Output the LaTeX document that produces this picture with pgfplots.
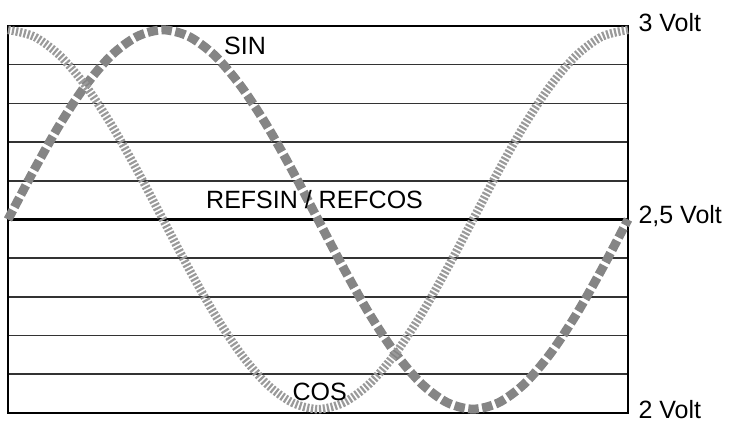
\documentclass[border=0pt]{standalone}
\usepackage{pgfplots}
\pgfplotsset{compat=1.18}
\usepackage{fontspec}
\setmainfont{Liberation Sans}
\definecolor{sincol}{HTML}{858585}
\definecolor{coscol}{HTML}{9A9A9A}
\begin{document}
\begin{tikzpicture}[x=1pt,y=1pt]
\begin{axis}[
  scale only axis,
  width=620pt, height=387pt,
  xmin=0, xmax=360, ymin=2, ymax=3,
  xtick=\empty,
  ytick={2,2.5,3},
  yticklabels={2 Volt,{2,5 Volt},3 Volt},
  yticklabel pos=right,
  minor ytick={2.1,2.2,2.3,2.4,2.6,2.7,2.8,2.9},
  major tick length=0pt, minor tick length=0pt,
  ymajorgrids, yminorgrids,
  major grid style={black, line width=2.2pt},
  minor grid style={black!80, line width=1.6pt},
  axis line style={black, line width=2.2pt},
  yticklabel style={font=\fontsize{25}{30}\selectfont, xshift=7pt, yshift=3pt, anchor=west},
  clip=false,
]
\addplot[sincol, line width=9pt, dash pattern=on 10.5pt off 3.5pt, smooth] coordinates {
(0,2.500) (15,2.627) (30,2.745) (45,2.846) (60,2.924) (75,2.973) (90,2.990)
(105,2.973) (120,2.924) (135,2.846) (150,2.745) (165,2.627) (180,2.500)
(195,2.373) (210,2.255) (225,2.154) (240,2.076) (255,2.027) (270,2.010)
(285,2.027) (300,2.076) (315,2.154) (330,2.255) (345,2.373) (360,2.500)};
\addplot[coscol, line width=8.5pt, dash pattern=on 2.2pt off 1.8pt, smooth] coordinates {
(0,2.990) (15,2.973) (30,2.924) (45,2.846) (60,2.745) (75,2.627) (90,2.500)
(105,2.373) (120,2.255) (135,2.154) (150,2.076) (165,2.027) (180,2.010)
(195,2.027) (210,2.076) (225,2.154) (240,2.255) (255,2.373) (270,2.500)
(285,2.627) (300,2.745) (315,2.846) (330,2.924) (345,2.973) (360,2.990)};
\node[font=\fontsize{25}{30}\selectfont] at (axis cs:137.6,2.948) {SIN};
\node[font=\fontsize{25}{30}\selectfont] at (axis cs:178,2.552) {REFSIN / REFCOS};
\node[font=\fontsize{25}{30}\selectfont] at (axis cs:181,2.054) {COS};
\end{axis}
\path[use as bounding box] (current axis.south west) ++(-8pt,-12pt) rectangle ([xshift=116pt,yshift=26pt]current axis.north east);
\end{tikzpicture}
\end{document}
